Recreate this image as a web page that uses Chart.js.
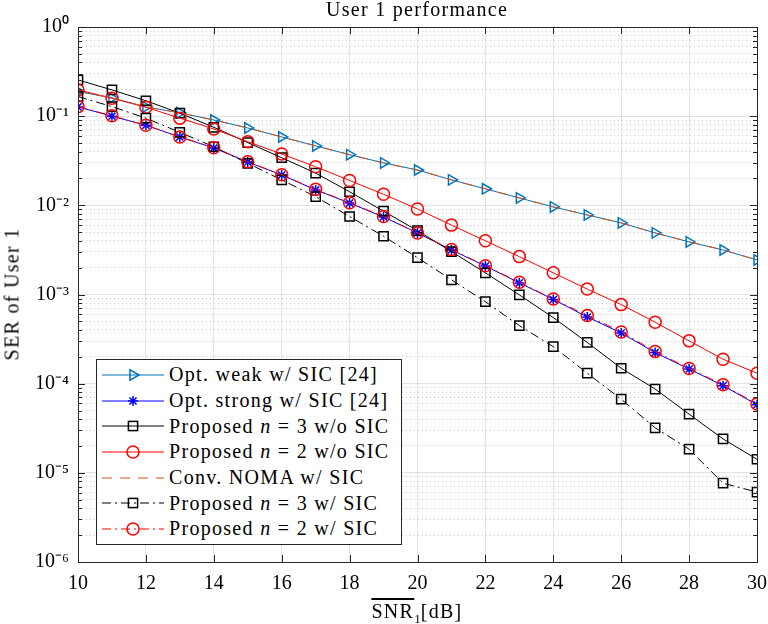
<!DOCTYPE html>
<html>
<head>
<meta charset="utf-8">
<script src="https://cdn.jsdelivr.net/npm/chart.js@4.4.0/dist/chart.umd.min.js"></script>
<style>
  html, body { margin: 0; padding: 0; background: #fff; }
  #wrap { position: relative; width: 768px; height: 624px; font-family: 'Liberation Serif', serif; color: #000; }
  .txt { position: absolute; font-size: 20px; letter-spacing: 1.3px; white-space: nowrap; line-height: 23px; }
  #title { top: -2px; left: 417px; transform: translateX(-50%); }
  #xlab { top: 600px; left: 417px; transform: translateX(-50%); }
  #xlab .ov { text-decoration: overline; }
  #xlab sub { font-size: 13px; letter-spacing: 0; }
  #ylab { left: 12px; top: 294px; transform: translate(-50%, -50%) rotate(-90deg); }
  #legend { position: absolute; left: 96px; top: 359px; background: #fff; border: 1px solid #262626;
            padding: 2px 12px 2px 5px; font-size: 20px; letter-spacing: 1.3px; }
  .row { display: flex; align-items: center; height: 25.7px; white-space: nowrap; }
  .row svg { margin-right: 5px; flex: none; }
</style>
</head>
<body>
<div id="wrap">
  <canvas id="serChart" width="768" height="624"></canvas>
  <div id="title" class="txt">User 1 performance</div>
  <div id="xlab" class="txt"><span class="ov">SNR</span><sub>1</sub>[dB]</div>
  <div id="ylab" class="txt">SER of User 1</div>
  <div id="legend"></div>
</div>
<script>
// SNR values (dB)
const snr = [10, 11, 12, 13, 14, 15, 16, 17, 18, 19, 20, 21, 22, 23, 24, 25, 26, 27, 28, 29, 30];
// SER curves
const optWeakSIC = [0.19, 0.16, 0.127, 0.109, 0.0906, 0.0738, 0.0585, 0.0464, 0.037, 0.0299, 0.0249, 0.0193, 0.0153, 0.0121, 0.0096, 0.0078, 0.00635, 0.00491, 0.00389, 0.00316, 0.00244];
const optStrongSIC = [0.127, 0.1, 0.079, 0.0585, 0.044, 0.0306, 0.0219, 0.0149, 0.0106, 0.0074, 0.0049, 0.00316, 0.00209, 0.00135, 0.00088, 0.00056, 0.00037, 0.000223, 0.000146, 0.000095, 0.000058];
const prop3NoSIC = [0.255, 0.197, 0.149, 0.108, 0.075, 0.0505, 0.0342, 0.023, 0.0142, 0.0086, 0.0052, 0.00303, 0.00175, 0.00099, 0.00055, 0.00029, 0.000149, 0.000087, 0.0000455, 0.000024, 0.0000142];
const prop2NoSIC = [0.197, 0.159, 0.126, 0.095, 0.0719, 0.0517, 0.0376, 0.0271, 0.019, 0.0133, 0.0091, 0.006, 0.004, 0.00266, 0.00175, 0.00115, 0.00077, 0.000489, 0.000302, 0.000188, 0.000131];
const convNomaSIC = [0.19, 0.16, 0.127, 0.109, 0.0906, 0.0738, 0.0585, 0.0464, 0.037, 0.0299, 0.0249, 0.0193, 0.0153, 0.0121, 0.0096, 0.0078, 0.00635, 0.00491, 0.00389, 0.00316, 0.00244];
const prop3SIC = [0.166, 0.128, 0.095, 0.0659, 0.0454, 0.0296, 0.0193, 0.0125, 0.0075, 0.0045, 0.00259, 0.00146, 0.00083, 0.000448, 0.00026, 0.000131, 0.000067, 0.000032, 0.0000184, 0.00000765, 0.00000608];
const prop2SIC = [0.128, 0.101, 0.079, 0.0585, 0.0442, 0.0308, 0.022, 0.0151, 0.0107, 0.0075, 0.0049, 0.0032, 0.0021, 0.00137, 0.00089, 0.00058, 0.00038, 0.00023, 0.000148, 0.000097, 0.000059];
// y axis decades and their labels
const yDecades = [1e-6, 1e-5, 1e-4, 1e-3, 1e-2, 1e-1, 1];
const yTickLabels = ['10⁻⁶', '10⁻⁵', '10⁻⁴', '10⁻³', '10⁻²', '10⁻¹', '10⁰'];
const xTickStep = 2;

const FONT = "'Liberation Serif', serif";
const axisColor = '#262626';

// series styling
const series = [
    { label: 'Opt. weak w/ SIC [24]', data: optWeakSIC, color: '#0072BD', dash: [], marker: 'triangle', radius: 6 },
    { label: 'Opt. strong w/ SIC [24]', data: optStrongSIC, color: '#0000FF', dash: [], marker: 'star', radius: 5 },
    { label: 'Proposed <i>n</i> = 3 w/o SIC', data: prop3NoSIC, color: '#000000', dash: [], marker: 'rect', radius: 6.5 },
    { label: 'Proposed <i>n</i> = 2 w/o SIC', data: prop2NoSIC, color: '#FF0000', dash: [], marker: 'circle', radius: 6 },
    { label: 'Conv. NOMA w/ SIC', data: convNomaSIC, color: '#D95319', dash: [10, 8], marker: null, radius: 0 },
    { label: 'Proposed <i>n</i> = 3 w/ SIC', data: prop3SIC, color: '#000000', dash: [9, 4, 2, 4], marker: 'rect', radius: 6.5 },
    { label: 'Proposed <i>n</i> = 2 w/ SIC', data: prop2SIC, color: '#FF0000', dash: [9, 4, 2, 4], marker: 'circle', radius: 6 }
];

const datasets = series.map((s, i) => ({
    label: s.label.replace(/<\/?i>/g, ''),
    data: snr.map((x, k) => ({ x: x, y: s.data[k] })),
    borderColor: s.color,
    borderWidth: 1,
    borderDash: s.dash,
    pointStyle: s.marker || false,
    pointRotation: s.marker === 'triangle' ? 90 : 0,
    pointRadius: s.radius,
    pointBorderWidth: 1.5,
    pointBorderColor: s.color,
    pointBackgroundColor: 'rgba(0,0,0,0)',
    fill: false,
    tension: 0,
    order: series.length - i
}));

function isDecade(v) {
    const l = Math.log10(v);
    return Math.abs(l - Math.round(l)) < 1e-9;
}

// inward tick marks and box like MATLAB
const frameTicks = {
    id: 'frameTicks',
    afterDraw(chart) {
        const { ctx, chartArea: a, scales: { x, y } } = chart;
        ctx.save();
        ctx.strokeStyle = axisColor;
        ctx.lineWidth = 1;
        ctx.beginPath();
        x.ticks.forEach(t => {
            const px = Math.round(x.getPixelForValue(t.value)) + 0.5;
            ctx.moveTo(px, a.bottom); ctx.lineTo(px, a.bottom - 7);
            ctx.moveTo(px, a.top); ctx.lineTo(px, a.top + 7);
        });
        y.ticks.forEach(t => {
            const len = isDecade(t.value) ? 7 : 4;
            const py = Math.round(y.getPixelForValue(t.value)) + 0.5;
            ctx.moveTo(a.left, py); ctx.lineTo(a.left + len, py);
            ctx.moveTo(a.right, py); ctx.lineTo(a.right - len, py);
        });
        ctx.stroke();
        ctx.strokeRect(Math.round(a.left) + 0.5, Math.round(a.top) + 0.5,
            Math.round(a.right - a.left), Math.round(a.bottom - a.top));
        ctx.restore();
    }
};

const ctx = document.getElementById('serChart').getContext('2d');
const serChart = new Chart(ctx, {
    type: 'line',
    data: { datasets: datasets },
    options: {
        responsive: false,
        animation: false,
        devicePixelRatio: 1,
        layout: { padding: { left: 0, right: 11, top: 27, bottom: 0 } },
        plugins: {
            legend: { display: false },
            tooltip: { enabled: false }
        },
        scales: {
            x: {
                type: 'linear',
                min: snr[0],
                max: snr[snr.length - 1],
                afterFit: scale => {
                    scale.height = 62;
                    scale.paddingLeft = 0;
                    scale.paddingRight = 0;
                },
                ticks: {
                    stepSize: xTickStep,
                    color: '#000',
                    padding: 10,
                    font: { family: FONT, size: 20 },
                    maxRotation: 0
                },
                grid: { color: 'rgba(38,38,38,0.13)', drawTicks: false },
                border: { display: false }
            },
            y: {
                type: 'logarithmic',
                min: yDecades[0],
                max: yDecades[yDecades.length - 1],
                afterFit: scale => {
                    scale.width = 78;
                    scale.paddingTop = 0;
                    scale.paddingBottom = 0;
                },
                afterBuildTicks: scale => {
                    const ticks = [];
                    yDecades.forEach((d, i) => {
                        ticks.push({ value: d, major: true });
                        if (i < yDecades.length - 1) {
                            for (let m = 2; m <= 9; m++) ticks.push({ value: d * m, major: false });
                        }
                    });
                    scale.ticks = ticks;
                },
                ticks: {
                    autoSkip: false,
                    color: '#000',
                    padding: 9,
                    font: { family: FONT, size: 20 },
                    callback: function(value) {
                        const idx = yDecades.findIndex(d => Math.abs(Math.log10(d) - Math.log10(value)) < 1e-9);
                        return idx >= 0 ? yTickLabels[idx] : '';
                    }
                },
                grid: {
                    drawTicks: false,
                    color: c => isDecade(c.tick.value) ? 'rgba(38,38,38,0.13)' : 'rgba(38,38,38,0.25)'
                },
                border: {
                    display: false,
                    dash: c => isDecade(c.tick.value) ? [] : [1, 3]
                }
            }
        }
    },
    plugins: [frameTicks]
});

// Legend built from the same series list
function markerSvg(s) {
    const cx = 31, cy = 13, r = s.radius, c = s.color;
    if (s.marker === 'triangle') {
        return `<polygon points="${cx + r},${cy} ${cx - r / 2},${cy - r * 0.866} ${cx - r / 2},${cy + r * 0.866}" fill="none" stroke="${c}" stroke-width="1.5"/>`;
    }
    if (s.marker === 'star') {
        let d = '';
        for (let k = 0; k < 4; k++) {
            const ang = k * Math.PI / 4;
            const dx = Math.cos(ang) * r, dy = Math.sin(ang) * r;
            d += `M${cx - dx},${cy - dy}L${cx + dx},${cy + dy}`;
        }
        return `<path d="${d}" stroke="${c}" stroke-width="1.5"/>`;
    }
    if (s.marker === 'rect') {
        const h = r * Math.SQRT1_2;
        return `<rect x="${cx - h}" y="${cy - h}" width="${2 * h}" height="${2 * h}" fill="none" stroke="${c}" stroke-width="1.5"/>`;
    }
    if (s.marker === 'circle') {
        return `<circle cx="${cx}" cy="${cy}" r="${r}" fill="none" stroke="${c}" stroke-width="1.5"/>`;
    }
    return '';
}

const legendEl = document.getElementById('legend');
series.forEach(s => {
    const row = document.createElement('div');
    row.className = 'row';
    const dash = s.dash.length ? `stroke-dasharray="${s.dash.join(',')}"` : '';
    row.innerHTML = `<svg width="62" height="26"><line x1="0" y1="13" x2="62" y2="13" stroke="${s.color}" stroke-width="1.2" ${dash}/>${markerSvg(s)}</svg><span>${s.label}</span>`;
    legendEl.appendChild(row);
});
</script>
</body>
</html>
